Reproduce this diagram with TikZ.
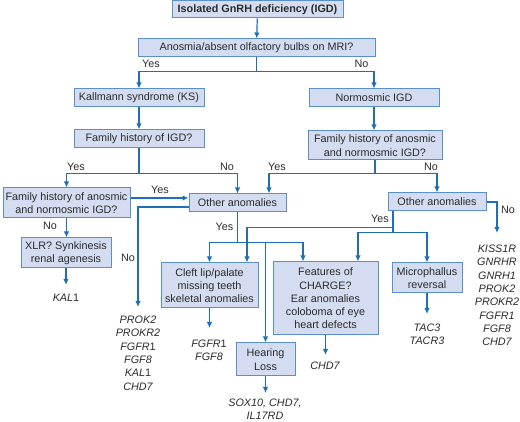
\documentclass[tikz,border=0pt]{standalone}
\usepackage{fontspec}
\setmainfont{Liberation Sans}
\usetikzlibrary{arrows.meta}

\definecolor{boxfill}{HTML}{D3DCF0}
\definecolor{boxline}{HTML}{5A8FCB}
\definecolor{linkblue}{HTML}{1E6FB8}
\definecolor{txt}{HTML}{2B2B2B}

\tikzset{
  box/.style={draw=boxline, fill=boxfill, line width=1pt, inner sep=1pt, align=center},
  gene/.style={inner sep=0pt, outer ysep=9pt, align=center, anchor=north,
    font=\fontsize{10.8}{13.3}\selectfont\itshape},
  lbl/.style={inner sep=0pt},
  arr/.style={draw=linkblue, line width=1.2pt, -{Latex[length=6pt,width=5.5pt]}}
}

\begin{document}
\begin{tikzpicture}[x=1pt, y=-1pt, font=\fontsize{10.8}{13.3}\selectfont, text=txt]
    \useasboundingbox (0,0) rectangle (520,422);

    % 方框
    \node[box, font=\fontsize{10.8}{13.3}\selectfont\bfseries, minimum width=171, minimum height=17] (igd) at (257.5,9.5) {Isolated GnRH deficiency (IGD)};
    \node[box, minimum width=237, minimum height=18] (anos) at (256.5,48) {Anosmia/absent olfactory bulbs on MRI?};
    \node[box, minimum width=130, minimum height=18] (ks) at (139,98) {Kallmann syndrome (KS)};
    \node[box, minimum width=130, minimum height=18] (norm) at (374,98) {Normosmic IGD};
    \node[box, minimum width=130, minimum height=18] (famIGD) at (139,139) {Family history of IGD?};
    \node[box, minimum width=134, minimum height=29] (famNorm) at (375,145.5) {Family history of anosmic\\and normosmic IGD?};
    \node[box, minimum width=127, minimum height=30] (famAnos) at (66.5,203) {Family history of anosmic\\and normosmic IGD?};
    \node[box, minimum width=97, minimum height=18] (otherL) at (237.5,203) {Other anomalies};
    \node[box, minimum width=98, minimum height=18] (otherR) at (437,202) {Other anomalies};
    \node[box, minimum width=90, minimum height=30] (xlr) at (66,253) {XLR? Synkinesis\\renal agenesis};
    \node[box, minimum width=97, minimum height=45] (cleft) at (209.5,285.5) {Cleft lip/palate\\missing teeth\\skeletal anomalies};
    \node[box, minimum width=105, minimum height=73] (charge) at (325.5,298.5) {Features of\\CHARGE?\\Ear anomalies\\coloboma of eye\\heart defects};
    \node[box, minimum width=70, minimum height=30] (micro) at (427,278) {Microphallus\\reversal};
    \node[box, minimum width=59, minimum height=33] (hearing) at (265.5,359.5) {Hearing\\Loss};

    % 基因
    \node[gene] (kal1) at (66,285) {KAL\textup{1}};
    \node[gene] (noGenes) at (138,307) {PROK2\\PROKR2\\FGFR\textup{1}\\FGF8\\KAL\textup{1}\\CHD7};
    \node[gene, outer ysep=12pt] (cleftGenes) at (209,328) {FGFR\textup{1}\\FGF8};
    \node[gene, outer ysep=6pt] (hearGenes) at (265,393) {SOX10, CHD7,\\IL17RD};
    \node[gene, outer ysep=7pt] (chargeGenes) at (325,355) {CHD7};
    \node[gene, outer ysep=10pt] (microGenes) at (427,314) {TAC3\\TACR3};
    \node[gene, outer ysep=12pt] (rightGenes) at (497,233) {KISS1R\\GNRHR\\GNRH1\\PROK2\\PROKR2\\FGFR1\\FGF8\\CHD7};

    % 连线
    \draw[arr] (igd) -- (anos);
    \draw[arr] (anos.south) -- ++(0,14) -| (ks.north);
    \draw[arr] (anos.south) -- ++(0,14) -| (norm.north);
    \draw[arr] (ks) -- (famIGD);
    \draw[arr] (norm.south) -- (norm.south |- famNorm.north);
    \draw[arr] (famIGD.south) -- ++(0,25) -| (famAnos.north);
    \draw[arr] (famIGD.south) -- ++(0,25) -| (otherL.north);
    \draw[arr] (famNorm.south) -- ++(0,13) -| ([xshift=31.5]otherL.north);
    \draw[arr] (famNorm.south) -- ++(0,13) -| (otherR.north);
    \draw[arr] ([yshift=5]famAnos.east) -- ([yshift=5]otherL.west);
    \draw[arr] (famAnos.south) -- (famAnos.south |- xlr.north);
    \draw[arr] (xlr.south) -- (xlr.south |- kal1.north);
    \draw[arr] ([yshift=-4]otherL.west) -| (noGenes.north);
    \draw[arr] (otherL.south) -- ++(0,30) -| (cleft.north);
    \draw[arr] (otherL.south) -- ++(0,30) -| ([xshift=-22.5]charge.north);
    \draw[arr] (otherL.south) -- ++(0,30) -| (hearing.north);
    \draw[arr] (otherR.east) -| (rightGenes.north);
    \draw[arr] ([xshift=-44]otherR.south) -- ++(0,16) -| ([xshift=37.5]cleft.north);
    \draw[arr] ([xshift=-44]otherR.south) -- ++(0,21) -| ([xshift=32.5]charge.north);
    \draw[arr] ([xshift=-44]otherR.south) -- ++(0,21) -| (micro.north);
    \draw[arr] (cleft.south) -- (cleft.south |- cleftGenes.north);
    \draw[arr] (hearing.south) -- (hearing.south |- hearGenes.north);
    \draw[arr] (charge.south) -- (charge.south |- chargeGenes.north);
    \draw[arr] (micro.south) -- (micro.south |- microGenes.north);

    % 标签
    \node[lbl] (yes1) at (151,64) {Yes};
    \node[lbl] (no1) at (361.5,64) {No};
    \node[lbl] (yes2) at (76,167) {Yes};
    \node[lbl] (no2) at (227,167) {No};
    \node[lbl] (yes3) at (277,167) {Yes};
    \node[lbl] (no3) at (431,167) {No};
    \node[lbl] (yes4) at (160,190) {Yes};
    \node[lbl] (no4) at (50,226) {No};
    \node[lbl] (no5) at (128,258) {No};
    \node[lbl] (yes5) at (224.5,227) {Yes};
    \node[lbl] (yes6) at (380,219) {Yes};
    \node[lbl] (no6) at (508,210) {No};
\end{tikzpicture}
\end{document}
